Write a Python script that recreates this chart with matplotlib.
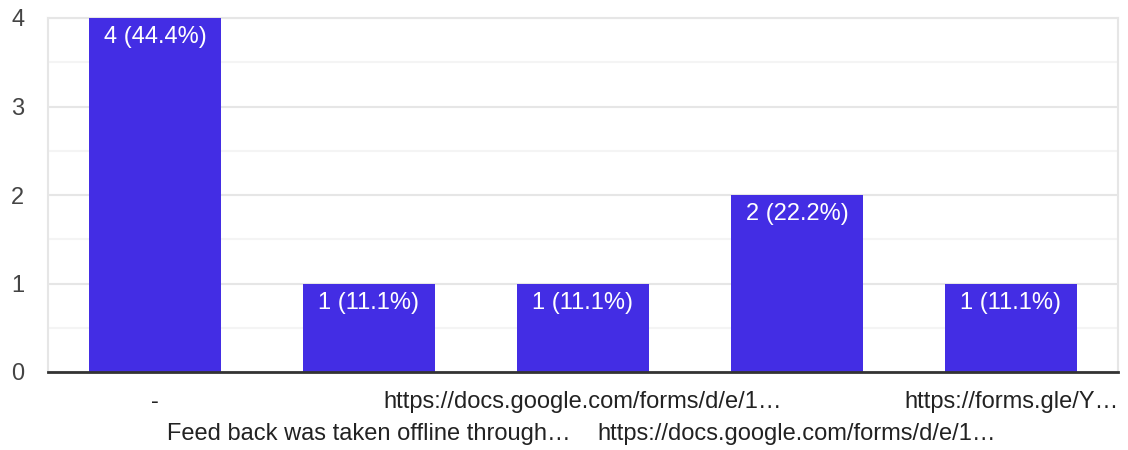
import matplotlib.pyplot as plt

categories = [
    "-",
    "Feed back was taken offline through\u2026",
    "https://docs.google.com/forms/d/e/1\u2026",
    "https://docs.google.com/forms/d/e/1\u2026",
    "https://forms.gle/Y\u2026",
]
counts = [4, 1, 1, 2, 1]
percents = [44.4, 11.1, 11.1, 22.2, 11.1]

BAR_COLOUR = "#432de4"
TEXT_COLOUR = "#222222"

plt.rcParams["font.family"] = ["Liberation Sans", "DejaVu Sans"]

fig = plt.figure(figsize=(11.28, 4.5), dpi=100)
ax = fig.add_axes([48 / 1128, 78 / 450, 1070 / 1128, 354 / 450])

x = list(range(len(categories)))
ax.bar(x, counts, width=0.62, color=BAR_COLOUR, zorder=3)

for xi, c, p in zip(x, counts, percents):
    ax.text(xi, c - 0.215, f"{c} ({p}%)", ha="center", va="center",
            color="white", fontsize=17, zorder=4)

ax.set_xlim(-0.5, len(categories) - 0.5)
ax.set_ylim(0, 4)
ax.set_yticks([0, 1, 2, 3, 4])
ax.set_yticks([0.5, 1.5, 2.5, 3.5], minor=True)
ax.grid(axis="y", which="major", color="#e6e6e6", linewidth=1.5, zorder=0)
ax.grid(axis="y", which="minor", color="#f4f4f4", linewidth=1.5, zorder=0)
ax.tick_params(axis="y", which="both", length=0, pad=17, labelsize=17,
               labelcolor="#444444")

ax.set_xticks(x)
ax.set_xticklabels([])
ax.tick_params(axis="x", length=0)
for xi, name in zip(x, categories):
    row_y = -0.335 if xi % 2 == 0 else -0.695
    ax.text(xi, row_y, name, ha="center", va="center", fontsize=17,
            color=TEXT_COLOUR, clip_on=False)

for side in ["left", "right", "top"]:
    ax.spines[side].set_color("#e6e6e6")
    ax.spines[side].set_linewidth(1.5)
ax.spines["bottom"].set_color("#333333")
ax.spines["bottom"].set_linewidth(2)
ax.spines["bottom"].set_zorder(5)

fig.savefig("out.png", dpi=100)
